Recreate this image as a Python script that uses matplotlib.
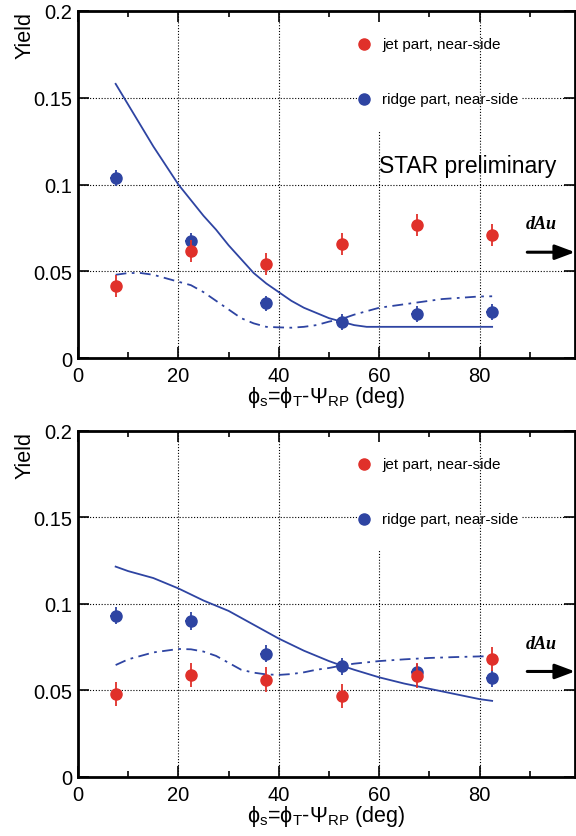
import matplotlib
matplotlib.use("Agg")
import matplotlib.pyplot as plt
from matplotlib.ticker import MultipleLocator

plt.rcParams['font.family'] = ['Liberation Sans', 'DejaVu Sans']
plt.rcParams['mathtext.fontset'] = 'custom'
plt.rcParams['mathtext.rm'] = 'Liberation Sans'
plt.rcParams['mathtext.it'] = 'Liberation Sans'
plt.rcParams['mathtext.fallback'] = 'stixsans'

RED = '#e0302a'
BLUE = '#2e44a2'

# bin centres (deg)
phi_bins = [7.5, 22.5, 37.5, 52.5, 67.5, 82.5]

# top panel
jet_top = [0.0415, 0.0618, 0.0542, 0.0657, 0.0767, 0.0709]
jet_top_err = [0.0065, 0.0065, 0.0065, 0.0065, 0.0065, 0.0065]
ridge_top = [0.1037, 0.0674, 0.0315, 0.0209, 0.0254, 0.0267]
ridge_top_err = [0.0045, 0.0045, 0.0045, 0.0045, 0.0045, 0.0045]

# bottom panel
jet_bot = [0.0478, 0.0591, 0.0563, 0.0466, 0.0586, 0.0682]
jet_bot_err = [0.0070, 0.0070, 0.0070, 0.0070, 0.0070, 0.0070]
ridge_bot = [0.0933, 0.0902, 0.0713, 0.0640, 0.0605, 0.0570]
ridge_bot_err = [0.0050, 0.0050, 0.0050, 0.0050, 0.0050, 0.0050]

ridge_xerr = 1.2

# model curves
solid_top_x = [7.5, 10, 12.5, 15, 17.5, 20, 22.5, 25, 27.5, 30, 32.5, 35, 37.5, 40,
               42.5, 45, 47.5, 50, 52.5, 55, 57.5, 60, 70, 82.5]
solid_top_y = [0.158, 0.146, 0.134, 0.122, 0.111, 0.100, 0.091, 0.082, 0.074, 0.065,
               0.057, 0.049, 0.043, 0.038, 0.033, 0.029, 0.026, 0.023, 0.021, 0.019,
               0.018, 0.018, 0.018, 0.018]
dash_top_x = [7.5, 10, 12.5, 15, 17.5, 20, 22.5, 25, 27.5, 30, 32.5, 35, 37.5, 40, 42.5,
              45, 47.5, 50, 52.5, 55, 57.5, 60, 62.5, 65, 67.5, 70, 72.5, 75, 77.5, 80, 82.5]
dash_top_y = [0.048, 0.049, 0.049, 0.048, 0.046, 0.044, 0.042, 0.038, 0.033, 0.028, 0.023,
              0.020, 0.018, 0.0177, 0.0175, 0.018, 0.019, 0.021, 0.0225, 0.025, 0.027,
              0.029, 0.030, 0.031, 0.032, 0.033, 0.034, 0.0345, 0.035, 0.0355, 0.0356]

solid_bot_x = [7.5, 10, 15, 20, 25, 30, 35, 40, 45, 50, 52.5, 55, 60, 65, 70, 75, 80, 82.5]
solid_bot_y = [0.1216, 0.119, 0.115, 0.109, 0.102, 0.096, 0.088, 0.080, 0.073, 0.067,
               0.0644, 0.062, 0.0576, 0.054, 0.051, 0.048, 0.045, 0.044]
dash_bot_x = [7.5, 10, 12.5, 15, 17.5, 20, 22.5, 25, 27.5, 30, 32.5, 35, 37.5, 40, 42.5,
              45, 47.5, 50, 52.5, 55, 60, 65, 70, 75, 80, 82.5]
dash_bot_y = [0.0647, 0.068, 0.070, 0.072, 0.073, 0.074, 0.0738, 0.0725, 0.070, 0.066,
              0.062, 0.0603, 0.0593, 0.059, 0.0595, 0.0605, 0.062, 0.063, 0.0644, 0.0655,
              0.067, 0.068, 0.0688, 0.0693, 0.0697, 0.0698]

legend_labels = ['jet part, near-side', 'ridge part, near-side']
xlabel = r'$\mathrm{\phi_{s}}$=$\mathrm{\phi_{T}}$-$\mathrm{\Psi_{RP}}$ (deg)'


def draw_panel(ax, jet, jet_err, ridge, ridge_err, solid, dash, star=False):
    ax.set_xlim(0, 99)
    ax.set_ylim(0, 0.2)

    # ROOT-style dotted grid, partly hidden behind the legend
    gkw = dict(color='black', lw=0.8, ls=(0, (1, 1.6)), zorder=0.5)
    for gx in [20, 40, 80]:
        ax.plot([gx, gx], [0, 0.2], **gkw)
    ax.plot([60, 60], [0, 0.131], **gkw)
    ax.plot([0, 99], [0.05, 0.05], **gkw)
    ax.plot([0, 99], [0.1, 0.1], **gkw)
    ax.plot([0, 55.5], [0.15, 0.15], **gkw)
    ax.plot([88.5, 99], [0.15, 0.15], **gkw)

    ax.plot(solid[0], solid[1], color=BLUE, lw=1.3, zorder=2)
    ax.plot(dash[0], dash[1], color=BLUE, lw=1.3, ls=(0, (6, 3, 1.5, 3)), zorder=2)

    ax.errorbar(phi_bins, ridge, yerr=ridge_err, xerr=ridge_xerr, fmt='o', color=BLUE,
                ms=8, elinewidth=1.3, capsize=0, zorder=3)
    ax.errorbar(phi_bins, jet, yerr=jet_err, fmt='o', color=RED, ms=8,
                elinewidth=1.3, capsize=0, zorder=4)

    # legend
    ax.plot([57], [0.181], 'o', color=RED, ms=8)
    ax.plot([57], [0.149], 'o', color=BLUE, ms=8)
    ax.text(60.6, 0.181, legend_labels[0], fontsize=11, va='center', ha='left')
    ax.text(60.6, 0.149, legend_labels[1], fontsize=11, va='center', ha='left')

    if star:
        ax.text(60, 0.107, 'STAR preliminary', fontsize=16.5, ha='left', va='baseline')

    ax.text(89.3, 0.0725, 'dAu', fontsize=13, family='Liberation Serif',
            weight='bold', style='italic', ha='left', va='bottom')
    ax.annotate('', xy=(99, 0.061), xytext=(89.5, 0.061),
                arrowprops=dict(arrowstyle='-|>,head_length=1.2,head_width=0.45',
                                color='black', lw=2.2, shrinkA=0, shrinkB=0))

    ax.xaxis.set_major_locator(MultipleLocator(20))
    ax.xaxis.set_minor_locator(MultipleLocator(10))
    ax.set_yticks([0, 0.05, 0.1, 0.15, 0.2])
    ax.set_yticklabels(['0', '0.05', '0.1', '0.15', '0.2'])
    ax.tick_params(which='both', direction='in', top=True, right=True, labelsize=14.5)
    ax.tick_params(which='major', length=8, width=1.2, pad=6)
    ax.tick_params(which='minor', length=4.5, width=1.2)
    ax.tick_params(axis='y', pad=4)
    for s in ax.spines.values():
        s.set_linewidth(2)

    ax.set_ylabel('Yield', fontsize=15.5, loc='top')
    ax.yaxis.set_label_coords(-0.085, 1.0)
    ax.set_xlabel(xlabel, fontsize=15.5)
    ax.xaxis.set_label_coords(0.5, -0.075)


fig = plt.figure(figsize=(5.76, 8.37), dpi=100)
ax1 = fig.add_axes([0.1354, 0.571, 0.8628, 0.4147])
ax2 = fig.add_axes([0.1354, 0.0705, 0.8628, 0.4134])

draw_panel(ax1, jet_top, jet_top_err, ridge_top, ridge_top_err,
           (solid_top_x, solid_top_y), (dash_top_x, dash_top_y), star=True)
draw_panel(ax2, jet_bot, jet_bot_err, ridge_bot, ridge_bot_err,
           (solid_bot_x, solid_bot_y), (dash_bot_x, dash_bot_y))

fig.savefig('out.png', dpi=100)
